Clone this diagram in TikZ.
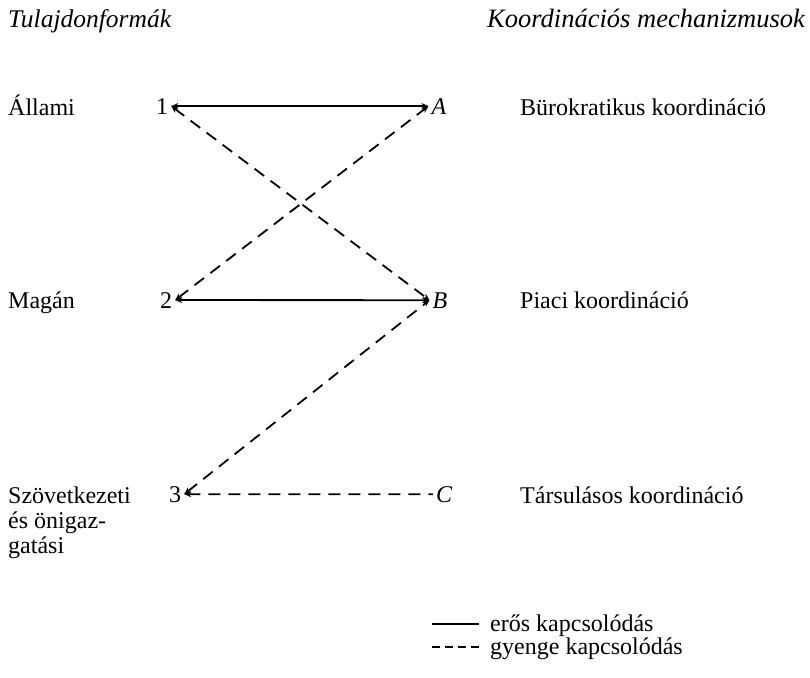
\documentclass[tikz,border=0pt]{standalone}
\usepackage{fontspec}
\setmainfont{Liberation Serif}
\usetikzlibrary{arrows.meta}
\begin{document}
\begin{tikzpicture}[x=1pt,y=-1pt,
  txt/.style={font=\fontsize{24}{25}\selectfont, inner sep=0pt},
  head/.style={inner sep=0pt, anchor=base west},
  lbl/.style={txt, anchor=base west},
  pt/.style={font=\fontsize{24}{25}\selectfont, inner sep=3pt, anchor=base},
  ipt/.style={font=\fontsize{24}{25}\selectfont\itshape, inner sep=3pt, anchor=base},
  strong/.style={line width=1.8pt},
  weak/.style={line width=1.8pt, dash pattern=on 12pt off 8pt},
  conn/.style={{Stealth[length=7pt,width=6pt]}-{Stealth[length=7pt,width=6pt]}}]
\useasboundingbox (0,0) rectangle (810,677);
\node[head, font=\fontsize{25.5}{28}\selectfont\itshape] (h1) at (8,28) {Tulajdonformák};
\node[head, font=\fontsize{26.5}{28}\selectfont\itshape] (h2) at (487,28) {Koordinációs mechanizmusok};
\node[lbl] (l1) at (8,115) {Állami};
\node[lbl] (l2) at (8,308) {Magán};
\node[lbl] (l3a) at (8,503) {Szövetkezeti};
\node[lbl] (l3b) at (8,528) {és önigaz-};
\node[lbl] (l3c) at (8,553) {gatási};
\node[pt] (n1) at (162,114) {1};
\node[pt] (n2) at (166,308) {2};
\node[pt] (n3) at (175,502) {3};
\node[ipt] (nA) at (439,114) {A};
\node[ipt] (nB) at (440,308) {B};
\node[ipt] (nC) at (444,502) {C};
\node[lbl] (r1) at (520,115) {Bürokratikus koordináció};
\node[lbl] (r2) at (520,308) {Piaci koordináció};
\node[lbl] (r3) at (520,503) {Társulásos koordináció};
\draw[strong, conn] (n1.east) -- (nA.west);
\draw[strong, conn] (n2.east) -- (nB.west);
\draw[weak, conn] (n1.east) -- (nB.west);
\draw[weak, conn] (n2.east) -- (nA.west);
\draw[weak, conn] (n3.east) -- (nB.west);
\draw[weak, {Stealth[length=7pt,width=6pt]}-] (n3.east) -- (nC.west);
\coordinate (s1) at (432,624);
\coordinate (s2) at (479,624);
\coordinate (d1) at (432,647);
\coordinate (d2) at (479,647);
\draw[strong] (s1) -- (s2);
\draw[line width=1.8pt, dash pattern=on 8pt off 5pt] (d1) -- (d2);
\node[lbl] (e1) at (490,631) {erős kapcsolódás};
\node[lbl] (e2) at (490,654) {gyenge kapcsolódás};
\end{tikzpicture}
\end{document}
